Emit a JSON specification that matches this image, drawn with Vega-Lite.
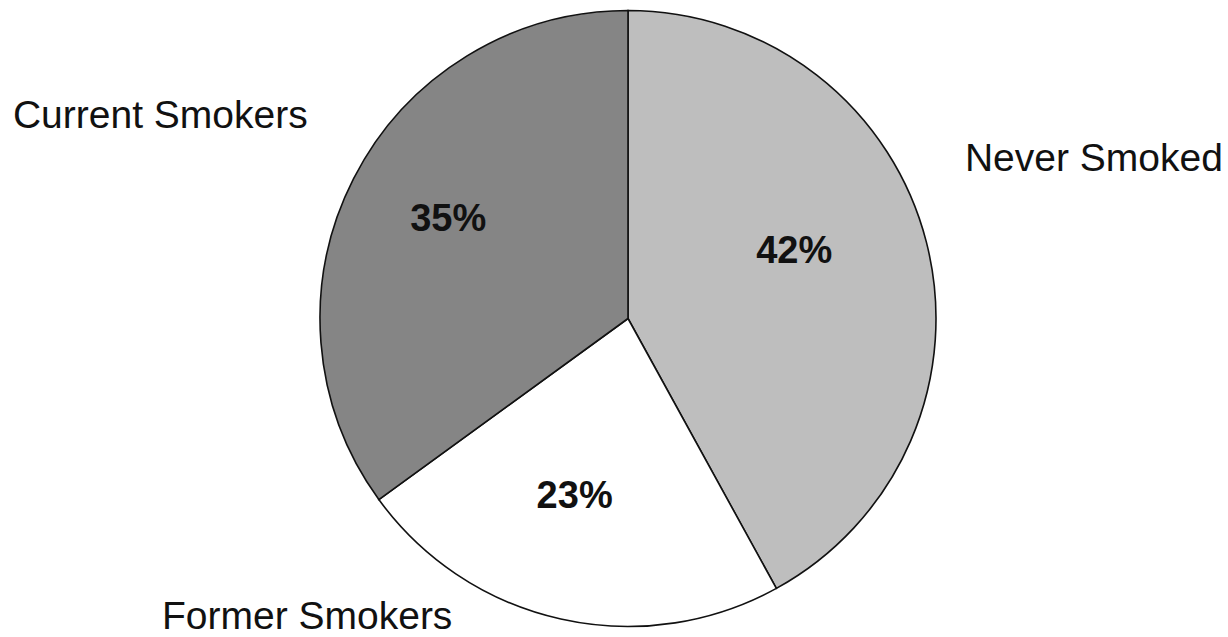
{
  "$schema": "https://vega.github.io/schema/vega-lite/v6.json",
  "width": 1200,
  "height": 637,
  "autosize": "none",
  "padding": {"left": 28, "top": 0, "right": 0, "bottom": 0},
  "background": "white",
  "config": {"view": {"stroke": null}},
  "data": {
    "values": [
      {"status": "Never Smoked", "share": 0.42, "slice": 1},
      {"status": "Former Smokers", "share": 0.23, "slice": 2},
      {"status": "Current Smokers", "share": 0.35, "slice": 3}
    ]
  },
  "encoding": {
    "theta": {"field": "share", "type": "quantitative", "stack": true},
    "order": {"field": "slice", "type": "quantitative"}
  },
  "layer": [
    {
      "mark": {"type": "arc", "radius": 308, "stroke": "#111111", "strokeWidth": 1.6},
      "encoding": {
        "color": {
          "field": "status",
          "type": "nominal",
          "scale": {
            "domain": ["Never Smoked", "Former Smokers", "Current Smokers"],
            "range": ["#bebebe", "#ffffff", "#858585"]
          },
          "legend": null
        }
      }
    },
    {
      "mark": {"type": "text", "radius": 185, "dx": -13, "dy": -20, "font": "Liberation Sans", "fontSize": 38, "fontWeight": "bold", "fill": "#111111", "align": "center", "baseline": "middle"},
      "encoding": {
        "detail": {"field": "status"},
        "text": {"condition": {"test": "datum.status === 'Never Smoked'", "field": "share", "type": "quantitative", "format": ".0%"}, "value": ""}
      }
    },
    {
      "mark": {"type": "text", "radius": 185, "dx": -13, "dy": -2, "font": "Liberation Sans", "fontSize": 38, "fontWeight": "bold", "fill": "#111111", "align": "center", "baseline": "middle"},
      "encoding": {
        "detail": {"field": "status"},
        "text": {"condition": {"test": "datum.status === 'Former Smokers'", "field": "share", "type": "quantitative", "format": ".0%"}, "value": ""}
      }
    },
    {
      "mark": {"type": "text", "radius": 185, "dx": -15, "dy": -15, "font": "Liberation Sans", "fontSize": 38, "fontWeight": "bold", "fill": "#111111", "align": "center", "baseline": "middle"},
      "encoding": {
        "detail": {"field": "status"},
        "text": {"condition": {"test": "datum.status === 'Current Smokers'", "field": "share", "type": "quantitative", "format": ".0%"}, "value": ""}
      }
    },
    {
      "mark": {"type": "text", "radius": 480, "dx": 1, "dy": -40, "font": "Liberation Sans", "fontSize": 39, "fill": "#111111", "align": "center", "baseline": "middle"},
      "encoding": {
        "detail": {"field": "status"},
        "text": {"condition": {"test": "datum.status === 'Never Smoked'", "field": "status", "type": "nominal"}, "value": ""}
      }
    },
    {
      "mark": {"type": "text", "radius": 320, "dx": -251, "dy": -14, "font": "Liberation Sans", "fontSize": 39, "fill": "#111111", "align": "center", "baseline": "middle"},
      "encoding": {
        "detail": {"field": "status"},
        "text": {"condition": {"test": "datum.status === 'Former Smokers'", "field": "status", "type": "nominal"}, "value": ""}
      }
    },
    {
      "mark": {"type": "text", "radius": 480, "dx": -40, "dy": 15, "font": "Liberation Sans", "fontSize": 39, "fill": "#111111", "align": "center", "baseline": "middle"},
      "encoding": {
        "detail": {"field": "status"},
        "text": {"condition": {"test": "datum.status === 'Current Smokers'", "field": "status", "type": "nominal"}, "value": ""}
      }
    }
  ]
}
